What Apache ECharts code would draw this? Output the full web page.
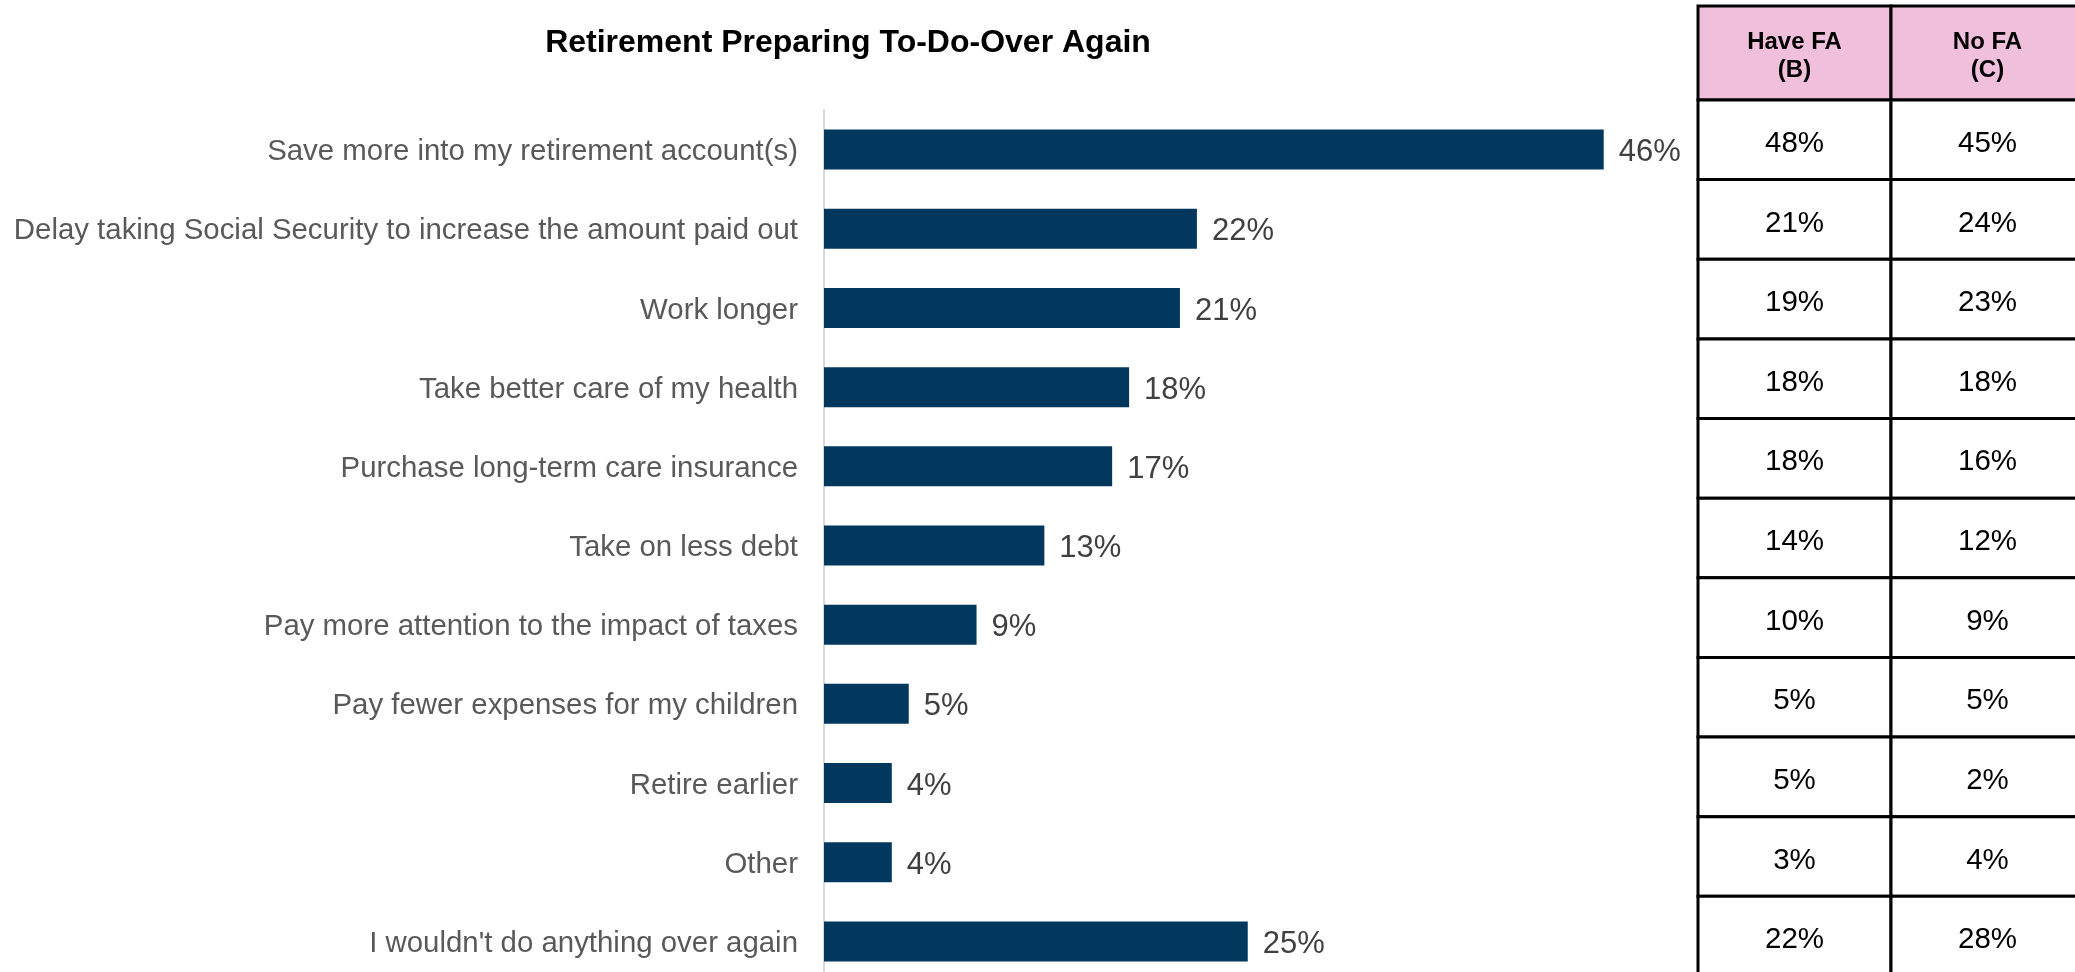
<!DOCTYPE html>
<html>
<head>
<meta charset="utf-8">
<title>Retirement Preparing To-Do-Over Again</title>
<script src="https://cdn.jsdelivr.net/npm/echarts@6/dist/echarts.min.js"></script>
<style>
  html, body { margin: 0; padding: 0; background: #ffffff; }
  #chart { width: 2075px; height: 972px; }
</style>
</head>
<body>
<div id="chart"></div>
<script>
// Survey answers, top to bottom
const categories = [
  'Save more into my retirement account(s)',
  'Delay taking Social Security to increase the amount paid out',
  'Work longer',
  'Take better care of my health',
  'Purchase long-term care insurance',
  'Take on less debt',
  'Pay more attention to the impact of taxes',
  'Pay fewer expenses for my children',
  'Retire earlier',
  'Other',
  "I wouldn't do anything over again"
];
// Total share of respondents (%)
const totalPct = [46, 22, 21, 18, 17, 13, 9, 5, 4, 4, 25];
// Breakdown by financial advisor status (%)
const haveFA = [48, 21, 19, 18, 18, 14, 10, 5, 5, 3, 22];
const noFA = [45, 24, 23, 18, 16, 12, 9, 5, 2, 4, 28];
const tableHeaders = ['Have FA\n(B)', 'No FA\n(C)'];
const chartTitle = 'Retirement Preparing To-Do-Over Again';

const FONT = '"Liberation Sans", Arial, sans-serif';
const HEADER_SPAN = 1.18; // header row height in body-row units

// Cells of the side table: header row (row = -1) followed by body rows
const tableCells = [];
tableHeaders.forEach((h, c) => tableCells.push({ value: [c, -1], text: h, header: true }));
[haveFA, noFA].forEach((col, c) => {
  col.forEach((v, r) => tableCells.push({ value: [c, r], text: v + '%', header: false }));
});

const chart = echarts.init(document.getElementById('chart'), null, { renderer: 'canvas' });

chart.setOption({
  backgroundColor: '#ffffff',
  animation: false,
  title: {
    text: chartTitle,
    left: 848,
    top: 27,
    padding: 0,
    textAlign: 'center',
    textStyle: { fontFamily: FONT, fontSize: 32, fontWeight: 'bold', color: '#000000' }
  },
  grid: [
    { left: 824, top: 110, width: 847.5, height: 871, outerBoundsMode: 'none', containLabel: false },
    { left: 1698, top: 6, width: 386, height: 970, outerBoundsMode: 'none', containLabel: false }
  ],
  xAxis: [
    { gridIndex: 0, type: 'value', min: 0, max: 50, show: false },
    { gridIndex: 1, type: 'value', min: 0, max: 2, show: false }
  ],
  yAxis: [
    {
      gridIndex: 0,
      type: 'category',
      inverse: true,
      data: categories,
      axisLine: { show: true, lineStyle: { color: '#d9d9d9', width: 2 } },
      axisTick: { show: false },
      splitLine: { show: false },
      axisLabel: {
        margin: 26,
        fontFamily: FONT,
        fontSize: 29.4,
        color: '#595959',
        formatter: function (v) { return '{c|' + v + '}'; },
        rich: {
          c: {
            fontFamily: FONT,
            fontSize: 29.4,
            color: '#595959',
            padding: [5, 0, 0, 0]
          }
        }
      }
    },
    { gridIndex: 1, type: 'value', inverse: true, min: -HEADER_SPAN, max: 11, show: false }
  ],
  series: [
    {
      type: 'bar',
      xAxisIndex: 0,
      yAxisIndex: 0,
      data: totalPct,
      barWidth: 40,
      itemStyle: { color: '#03385e' },
      label: {
        show: true,
        position: 'right',
        distance: 15,
        offset: [0, 3],
        formatter: '{c}%',
        fontFamily: FONT,
        fontSize: 31,
        color: '#404040'
      }
    },
    {
      type: 'custom',
      xAxisIndex: 1,
      yAxisIndex: 1,
      clip: false,
      data: tableCells,
      renderItem: function (params, api) {
        const cell = tableCells[params.dataIndex];
        const col = api.value(0);
        const row = api.value(1);
        const yTop = cell.header ? -HEADER_SPAN : row;
        const yBot = cell.header ? 0 : row + 1;
        const p0 = api.coord([col, yTop]);
        const p1 = api.coord([col + 1, yBot]);
        const w = p1[0] - p0[0];
        const h = p1[1] - p0[1];
        return {
          type: 'group',
          children: [
            {
              type: 'rect',
              shape: { x: p0[0], y: p0[1], width: w, height: h },
              style: {
                fill: cell.header ? '#efbfdb' : '#ffffff',
                stroke: '#000000',
                lineWidth: 3
              }
            },
            {
              type: 'text',
              x: p0[0] + w / 2,
              y: p0[1] + h / 2 + (cell.header ? 3 : 4),
              style: {
                text: cell.text,
                align: 'center',
                verticalAlign: 'middle',
                fontFamily: FONT,
                fontSize: cell.header ? 24 : 29.5,
                fontWeight: cell.header ? 'bold' : 'normal',
                lineHeight: cell.header ? 28 : 32,
                fill: '#000000'
              }
            }
          ]
        };
      }
    }
  ]
});
</script>
</body>
</html>
